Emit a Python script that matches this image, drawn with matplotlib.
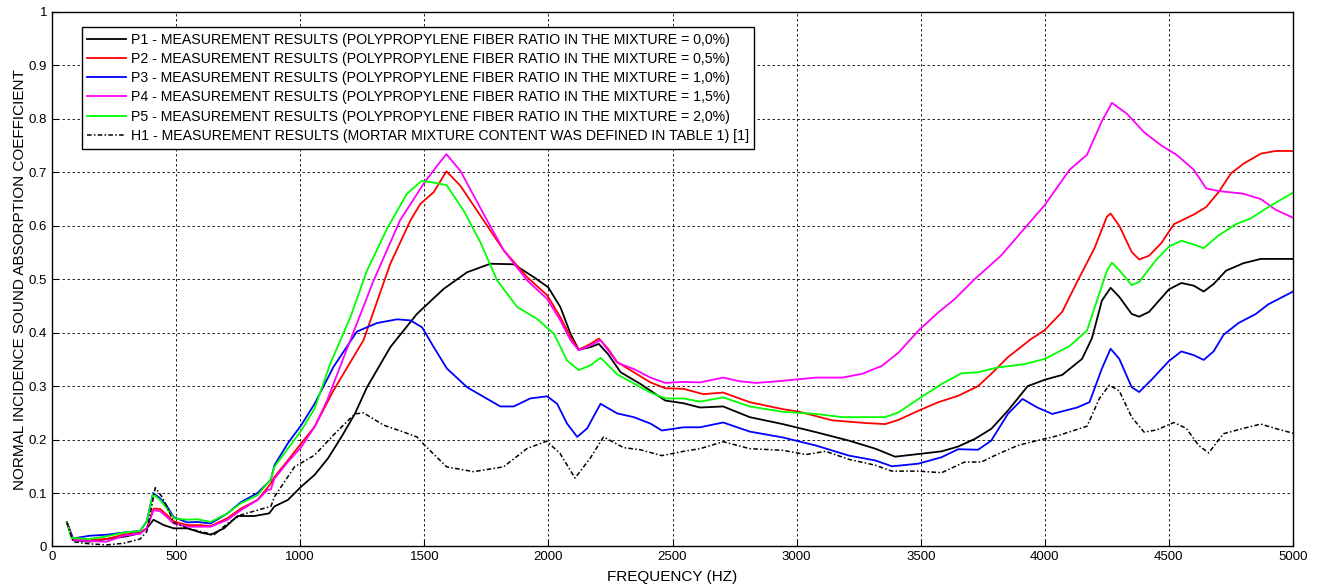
import matplotlib
matplotlib.use("Agg")
import matplotlib.pyplot as plt

## values (frequency in Hz, absorption coefficient)
p1_f = [60, 85, 150, 220, 300, 355, 382, 409, 450, 490, 545, 600, 640, 693, 747, 815, 875, 896, 950, 1004,
        1058, 1112, 1166, 1220, 1269, 1363, 1470, 1578, 1672, 1766, 1860, 1941, 1999, 2048, 2089, 2122, 2169,
        2203, 2240, 2291, 2371, 2471, 2544, 2611, 2704, 2811, 2944, 3077, 3211, 3317, 3397, 3491, 3584, 3651,
        3717, 3784, 3851, 3931, 4000, 4070, 4150, 4190, 4230, 4265, 4300, 4350, 4380, 4420, 4500, 4550, 4600,
        4640, 4680, 4730, 4800, 4870, 5000]
p1_a = [0.045, 0.012, 0.009, 0.014, 0.019, 0.025, 0.034, 0.05, 0.04, 0.034, 0.034, 0.026, 0.022, 0.034, 0.057,
        0.057, 0.062, 0.075, 0.087, 0.112, 0.134, 0.165, 0.205, 0.248, 0.298, 0.373, 0.435, 0.482, 0.513, 0.529,
        0.528, 0.504, 0.485, 0.448, 0.398, 0.368, 0.373, 0.379, 0.36, 0.326, 0.304, 0.273, 0.268, 0.26, 0.262,
        0.242, 0.229, 0.214, 0.198, 0.183, 0.168, 0.173, 0.178, 0.187, 0.201, 0.22, 0.254, 0.3, 0.312, 0.321,
        0.351, 0.39, 0.46, 0.484, 0.467, 0.435, 0.43, 0.439, 0.481, 0.493, 0.488, 0.477, 0.491, 0.516, 0.53,
        0.538, 0.538]

p2_f = [60, 85, 150, 220, 288, 355, 382, 409, 436, 463, 490, 545, 599, 639, 707, 761, 828, 882, 896, 950, 1004,
        1058, 1134, 1255, 1363, 1444, 1484, 1538, 1589, 1645, 1739, 1820, 1914, 1995, 2048, 2089, 2122, 2169,
        2203, 2240, 2277, 2344, 2411, 2471, 2544, 2624, 2704, 2811, 2944, 3011, 3144, 3277, 3357, 3411, 3491,
        3571, 3651, 3731, 3784, 3851, 3944, 4000, 4070, 4130, 4200, 4250, 4265, 4300, 4350, 4380, 4420, 4470,
        4520, 4600, 4650, 4700, 4750, 4800, 4870, 4930, 5000]
p2_a = [0.045, 0.012, 0.012, 0.014, 0.022, 0.026, 0.034, 0.071, 0.07, 0.059, 0.047, 0.04, 0.04, 0.038, 0.053,
        0.071, 0.087, 0.118, 0.13, 0.161, 0.193, 0.224, 0.292, 0.386, 0.529, 0.61, 0.641, 0.663, 0.702, 0.675,
        0.61, 0.554, 0.504, 0.47, 0.429, 0.392, 0.368, 0.379, 0.389, 0.37, 0.345, 0.326, 0.307, 0.296, 0.295,
        0.285, 0.288, 0.27, 0.257, 0.252, 0.236, 0.231, 0.229, 0.237, 0.254, 0.27, 0.282, 0.3, 0.323, 0.354,
        0.388, 0.405, 0.439, 0.495, 0.558, 0.617, 0.623, 0.6, 0.551, 0.537, 0.544, 0.568, 0.603, 0.621, 0.635,
        0.663, 0.698, 0.716, 0.735, 0.74, 0.74]

p3_f = [60, 85, 150, 220, 288, 355, 382, 407, 436, 463, 490, 545, 585, 639, 707, 761, 828, 882, 896, 950, 1004,
        1058, 1134, 1228, 1309, 1390, 1444, 1491, 1538, 1591, 1672, 1739, 1806, 1860, 1927, 1995, 2035, 2075,
        2116, 2156, 2210, 2277, 2344, 2411, 2457, 2544, 2611, 2704, 2811, 2944, 3077, 3211, 3317, 3384, 3491,
        3584, 3651, 3731, 3784, 3851, 3910, 3970, 4030, 4130, 4180, 4230, 4265, 4300, 4350, 4380, 4430, 4500,
        4550, 4600, 4640, 4680, 4720, 4780, 4850, 4900, 5000]
p3_a = [0.045, 0.015, 0.02, 0.022, 0.026, 0.029, 0.047, 0.1, 0.09, 0.075, 0.055, 0.045, 0.046, 0.043, 0.062,
        0.083, 0.1, 0.125, 0.152, 0.193, 0.227, 0.267, 0.336, 0.402, 0.418, 0.425, 0.423, 0.41, 0.373, 0.333,
        0.298, 0.28, 0.262, 0.262, 0.277, 0.281, 0.267, 0.23, 0.205, 0.221, 0.267, 0.249, 0.242, 0.23, 0.217,
        0.223, 0.223, 0.232, 0.215, 0.204, 0.189, 0.17, 0.161, 0.15, 0.155, 0.167, 0.182, 0.181, 0.198, 0.248,
        0.276, 0.26, 0.248, 0.26, 0.27, 0.333, 0.37, 0.351, 0.298, 0.289, 0.312, 0.347, 0.365, 0.358, 0.349,
        0.365, 0.396, 0.418, 0.435, 0.453, 0.477]

p4_f = [60, 85, 150, 220, 288, 355, 382, 409, 436, 463, 490, 545, 639, 707, 761, 828, 869, 882, 896, 950, 1004,
        1058, 1108, 1202, 1296, 1402, 1496, 1551, 1589, 1645, 1739, 1820, 1914, 1995, 2048, 2089, 2122, 2169,
        2210, 2277, 2344, 2411, 2471, 2544, 2611, 2704, 2771, 2837, 2944, 3077, 3184, 3264, 3344, 3411, 3491,
        3571, 3637, 3717, 3823, 4000, 4100, 4170, 4230, 4260, 4270, 4330, 4400, 4470, 4530, 4600, 4650, 4700,
        4800, 4870, 4930, 5000]
p4_a = [0.045, 0.012, 0.01, 0.009, 0.02, 0.024, 0.034, 0.068, 0.066, 0.055, 0.043, 0.037, 0.037, 0.05, 0.068,
        0.087, 0.106, 0.107, 0.127, 0.158, 0.186, 0.224, 0.273, 0.386, 0.498, 0.61, 0.678, 0.712, 0.734, 0.703,
        0.622, 0.554, 0.498, 0.463, 0.423, 0.386, 0.367, 0.376, 0.386, 0.344, 0.332, 0.316, 0.306, 0.308, 0.307,
        0.316, 0.309, 0.306, 0.31, 0.316, 0.316, 0.323, 0.338, 0.363, 0.404, 0.438, 0.463, 0.5, 0.544, 0.639,
        0.705, 0.733, 0.796, 0.821, 0.83, 0.81, 0.775, 0.75, 0.733, 0.705, 0.67, 0.665, 0.66, 0.65, 0.63, 0.615]

p5_f = [60, 78, 150, 220, 288, 355, 382, 407, 436, 463, 490, 545, 585, 639, 707, 761, 828, 882, 896, 950, 1004,
        1058, 1121, 1202, 1269, 1349, 1430, 1489, 1536, 1590, 1659, 1726, 1793, 1874, 1954, 2022, 2075, 2122,
        2169, 2210, 2277, 2344, 2411, 2471, 2544, 2611, 2704, 2811, 2944, 3077, 3184, 3357, 3411, 3491, 3584,
        3664, 3731, 3811, 3917, 4000, 4100, 4170, 4210, 4250, 4270, 4300, 4350, 4380, 4450, 4500, 4550, 4600,
        4640, 4700, 4770, 4830, 4900, 5000]
p5_a = [0.045, 0.016, 0.014, 0.019, 0.026, 0.029, 0.047, 0.098, 0.087, 0.071, 0.053, 0.05, 0.051, 0.046, 0.062,
        0.081, 0.096, 0.126, 0.149, 0.183, 0.217, 0.258, 0.342, 0.429, 0.516, 0.594, 0.66, 0.684, 0.681, 0.676,
        0.628, 0.569, 0.498, 0.448, 0.426, 0.398, 0.348, 0.33, 0.339, 0.353, 0.322, 0.305, 0.288, 0.277, 0.277,
        0.271, 0.279, 0.262, 0.252, 0.248, 0.242, 0.242, 0.251, 0.276, 0.304, 0.324, 0.326, 0.335, 0.341, 0.351,
        0.375, 0.404, 0.46, 0.516, 0.531, 0.517, 0.489, 0.495, 0.537, 0.561, 0.572, 0.565, 0.558, 0.582, 0.603,
        0.614, 0.635, 0.662]

h1_f = [60, 85, 150, 220, 288, 355, 382, 416, 443, 463, 490, 545, 626, 653, 707, 761, 828, 882, 896, 977, 1058,
        1139, 1220, 1255, 1336, 1417, 1470, 1500, 1590, 1698, 1819, 1913, 1993, 2047, 2107, 2168, 2222, 2302,
        2370, 2457, 2544, 2611, 2704, 2811, 2944, 3037, 3117, 3211, 3317, 3384, 3491, 3584, 3677, 3744, 3811,
        3891, 3950, 4050, 4170, 4220, 4260, 4300, 4350, 4400, 4450, 4520, 4570, 4620, 4660, 4720, 4800, 4870,
        4950, 5000]
h1_a = [0.045, 0.009, 0.005, 0.003, 0.006, 0.014, 0.028, 0.11, 0.093, 0.075, 0.045, 0.034, 0.025, 0.022, 0.043,
        0.059, 0.068, 0.075, 0.093, 0.149, 0.171, 0.211, 0.248, 0.25, 0.227, 0.214, 0.205, 0.19, 0.149, 0.14,
        0.149, 0.183, 0.197, 0.174, 0.128, 0.165, 0.205, 0.185, 0.181, 0.17, 0.178, 0.183, 0.196, 0.183, 0.18,
        0.172, 0.178, 0.163, 0.152, 0.141, 0.141, 0.138, 0.158, 0.158, 0.173, 0.189, 0.196, 0.207, 0.225, 0.277,
        0.302, 0.291, 0.242, 0.214, 0.218, 0.232, 0.221, 0.189, 0.175, 0.211, 0.221, 0.229, 0.218, 0.212]

LABELS = [
    "P1 - MEASUREMENT RESULTS (POLYPROPYLENE FIBER RATIO IN THE MIXTURE = 0,0%)",
    "P2 - MEASUREMENT RESULTS (POLYPROPYLENE FIBER RATIO IN THE MIXTURE = 0,5%)",
    "P3 - MEASUREMENT RESULTS (POLYPROPYLENE FIBER RATIO IN THE MIXTURE = 1,0%)",
    "P4 - MEASUREMENT RESULTS (POLYPROPYLENE FIBER RATIO IN THE MIXTURE = 1,5%)",
    "P5 - MEASUREMENT RESULTS (POLYPROPYLENE FIBER RATIO IN THE MIXTURE = 2,0%)",
    "H1 - MEASUREMENT RESULTS (MORTAR MIXTURE CONTENT WAS DEFINED IN TABLE 1) [1]",
]

x_ticks = [0, 500, 1000, 1500, 2000, 2500, 3000, 3500, 4000, 4500, 5000]
y_ticks = [0, 0.1, 0.2, 0.3, 0.4, 0.5, 0.6, 0.7, 0.8, 0.9, 1]
y_ticklabels = ["0", "0.1", "0.2", "0.3", "0.4", "0.5", "0.6", "0.7", "0.8", "0.9", "1"]


def plot_absorption():
    plt.rcParams["font.family"] = ["Liberation Sans", "DejaVu Sans"]
    fig = plt.figure(figsize=(13.17, 5.88), dpi=100)
    ax = fig.add_axes([0.0395, 0.0706, 0.9423, 0.909])

    lw = 1.3
    ax.plot(p1_f, p1_a, color="black", lw=lw, label=LABELS[0])
    ax.plot(p2_f, p2_a, color="red", lw=lw, label=LABELS[1])
    ax.plot(p3_f, p3_a, color="blue", lw=lw, label=LABELS[2])
    ax.plot(p4_f, p4_a, color="magenta", lw=lw, label=LABELS[3])
    ax.plot(p5_f, p5_a, color="lime", lw=lw, label=LABELS[4])
    ax.plot(h1_f, h1_a, color="black", lw=1.1, linestyle=(0, (3, 1.5, 1, 1.5)), label=LABELS[5])

    ax.set_xlim(0, 5000)
    ax.set_ylim(0, 1)
    ax.set_xticks(x_ticks)
    ax.set_yticks(y_ticks)
    ax.set_yticklabels(y_ticklabels)
    ax.tick_params(direction="in", length=4, labelsize=9.5, color="black")
    ax.grid(True, color="black", linestyle=(0, (3, 3)), linewidth=0.6)
    for sp in ax.spines.values():
        sp.set_linewidth(1.0)

    ax.set_xlabel("FREQUENCY (HZ)", fontsize=11, labelpad=5)
    ax.set_ylabel("NORMAL INCIDENCE SOUND ABSORPTION COEFFICIENT", fontsize=11, labelpad=1.5)

    leg = ax.legend(loc="upper left", bbox_to_anchor=(0.024, 0.972), borderaxespad=0,
                    fontsize=10.2, handlelength=2.7, labelspacing=0.37, fancybox=False,
                    framealpha=1, edgecolor="black", borderpad=0.4, handletextpad=0.35)
    leg.get_frame().set_linewidth(1.0)

    fig.savefig("out.png", dpi=100)
    plt.close(fig)


if __name__ == "__main__":
    plot_absorption()
